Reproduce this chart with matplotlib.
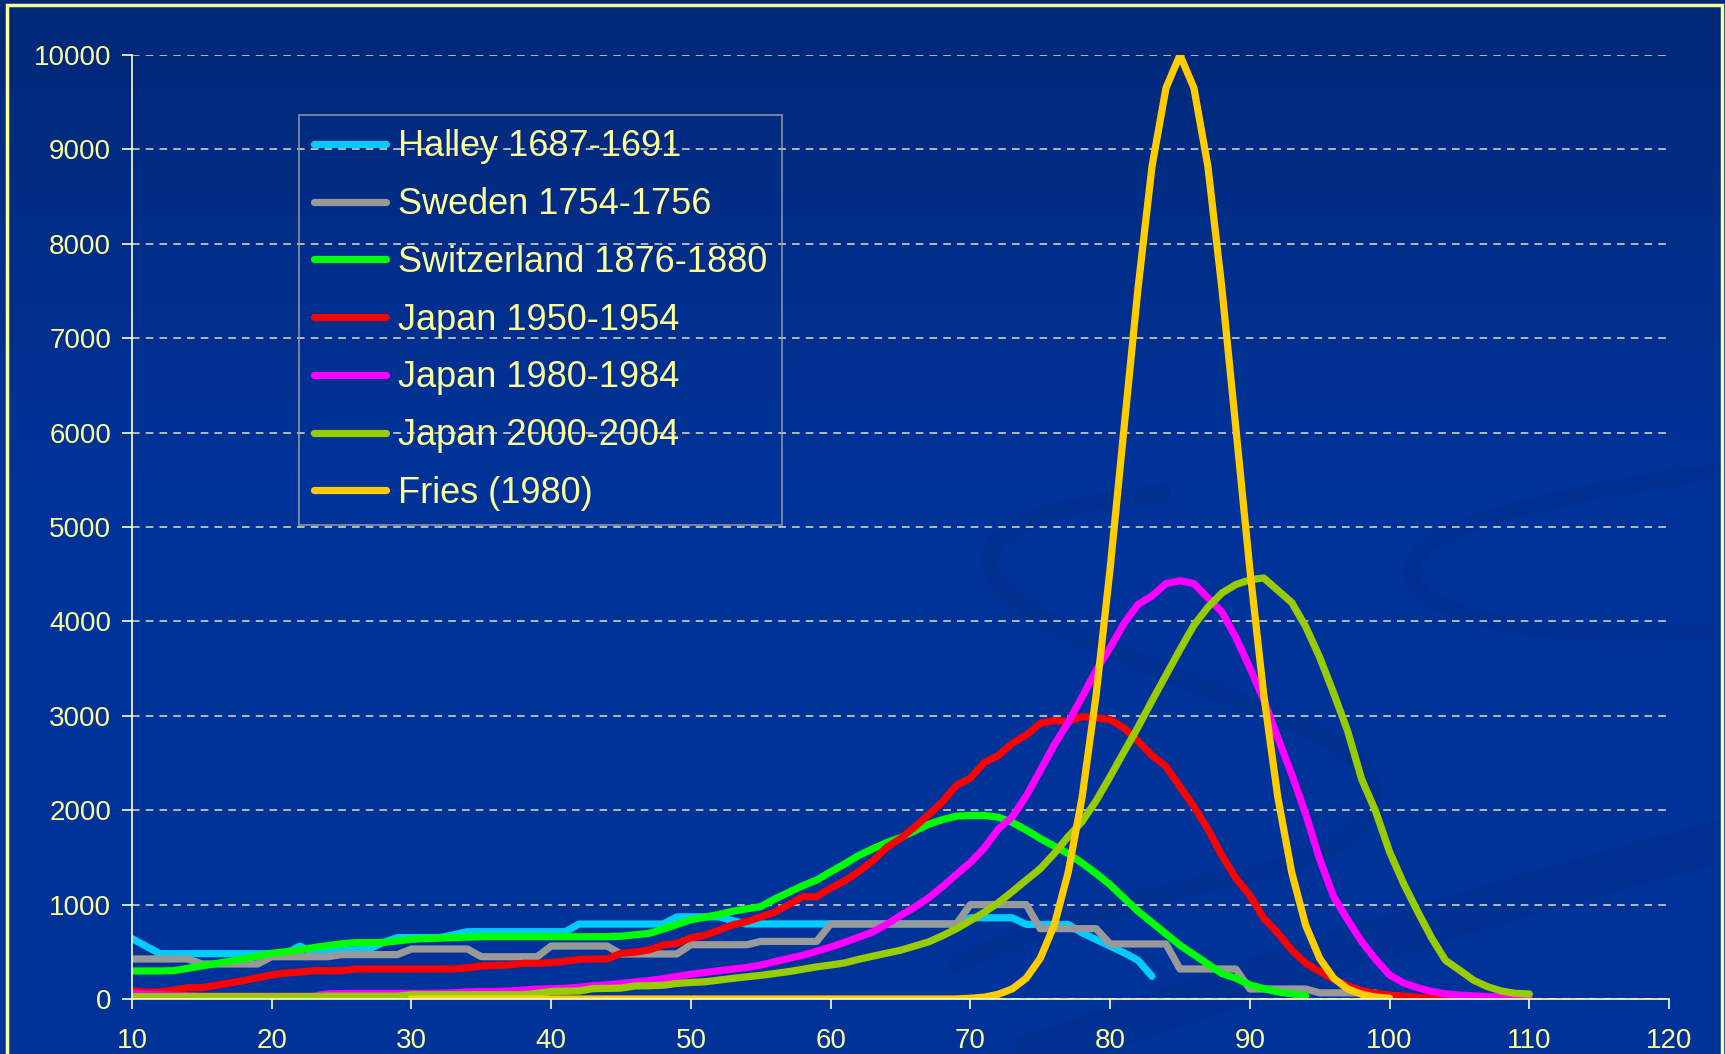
import matplotlib.pyplot as plt
import matplotlib.patches as mpatches
from matplotlib.path import Path
import numpy as np

plt.rcParams['font.family'] = ['Liberation Sans', 'DejaVu Sans']

# ---- data ----
halley_age = np.arange(10, 84)
halley = [640, 560, 480, 480, 480, 480, 480, 480, 480, 480,
          480, 480, 560, 490, 500, 510, 520, 530, 600, 650,
          650, 650, 650, 680, 713, 713, 713, 713, 713, 713,
          713, 713, 794, 794, 794, 794, 794, 794, 794, 870,
          870, 870, 870, 830, 795, 795, 795, 795, 795, 795,
          795, 795, 795, 795, 795, 795, 795, 795, 795, 795,
          860, 860, 860, 860, 790, 790, 790, 790, 700, 630,
          560, 490, 410, 240]

sweden_age = np.arange(10, 100)
sweden = [424, 424, 424, 424, 424, 371, 371, 371, 371, 371,
          448, 448, 448, 448, 448, 470, 470, 470, 470, 470,
          530, 530, 530, 530, 530, 448, 448, 448, 448, 448,
          561, 561, 561, 561, 561, 477, 477, 477, 477, 477,
          575, 575, 575, 575, 575, 610, 610, 610, 610, 610,
          795, 795, 795, 795, 795, 795, 795, 795, 795, 795,
          1000, 1000, 1000, 1000, 1000, 745, 745, 745, 745, 745,
          583, 583, 583, 583, 583, 318, 318, 318, 318, 318,
          106, 106, 106, 106, 106, 65, 65, 65, 65, 65]

swiss_age = np.arange(10, 95)
swiss = [297, 297, 297, 300, 325, 350, 375, 400, 425, 455,
         484, 500, 520, 545, 565, 585, 597, 597, 600, 615,
         632, 640, 645, 650, 655, 660, 660, 660, 660, 660,
         660, 660, 660, 660, 660, 665, 680, 695, 740, 790,
         839, 867, 895, 930, 955, 979, 1060, 1130, 1200, 1260,
         1347, 1430, 1520, 1590, 1656, 1710, 1780, 1850, 1900, 1937,
         1944, 1944, 1926, 1870, 1790, 1700, 1620, 1540, 1440, 1330,
         1210, 1070, 930, 810, 690, 570, 470, 370, 270, 220,
         150, 110, 75, 55, 35]

jp1950_age = np.arange(10, 106)
jp1950 = [88, 72, 75, 95, 120, 120, 145, 170, 195, 225,
          255, 275, 285, 300, 300, 300, 318, 318, 318, 318,
          318, 318, 318, 318, 330, 350, 355, 360, 378, 378,
          385, 400, 420, 424, 424, 484, 495, 520, 572, 590,
          649, 674, 730, 785, 820, 870, 920, 1000, 1084, 1084,
          1175, 1250, 1350, 1463, 1604, 1700, 1820, 1950, 2088, 2263,
          2340, 2505, 2579, 2709, 2796, 2919, 2950, 2940, 2990, 2980,
          2960, 2870, 2730, 2580, 2462, 2250, 2038, 1800, 1520, 1280,
          1100, 855, 700, 520, 380, 290, 210, 140, 90, 60,
          42, 30, 18, 10, 5, 0]

jp1980_age = np.arange(10, 111)
jp1980 = [60, 50, 45, 40, 35, 30, 30, 30, 30, 30,
          30, 30, 30, 30, 55, 58, 60, 60, 60, 60,
          60, 60, 62, 65, 75, 80, 80, 85, 95, 105,
          108, 113, 125, 140, 150, 165, 180, 195, 215, 240,
          262, 281, 300, 318, 333, 360, 395, 430, 463, 505,
          551, 600, 655, 709, 790, 884, 970, 1070, 1190, 1320,
          1446, 1600, 1800, 1930, 2150, 2420, 2690, 2930, 3200, 3480,
          3720, 3980, 4180, 4270, 4400, 4430, 4400, 4250, 4100, 3830,
          3510, 3170, 2770, 2380, 1960, 1480, 1084, 840, 610, 420,
          255, 170, 120, 80, 55, 42, 33, 25, 20, 14,
          10]

jp2000_age = np.arange(10, 111)
jp2000 = [25, 25, 25, 25, 25, 25, 25, 25, 25, 25,
          25, 25, 25, 25, 30, 30, 30, 30, 30, 30,
          45, 45, 45, 45, 45, 45, 45, 45, 45, 60,
          80, 82, 85, 110, 112, 115, 138, 140, 145, 165,
          175, 182, 200, 218, 235, 250, 270, 290, 315, 340,
          360, 382, 420, 453, 485, 516, 560, 604, 670, 744,
          830, 919, 1020, 1137, 1260, 1380, 1540, 1720, 1880, 2100,
          2355, 2620, 2880, 3160, 3430, 3700, 3960, 4150, 4300, 4390,
          4440, 4460, 4330, 4200, 3945, 3620, 3240, 2840, 2330, 1990,
          1560, 1225, 930, 650, 410, 307, 200, 131, 85, 60,
          53]

fries_age = np.arange(30, 101)
fries = [0, 0, 0, 0, 0, 0, 0, 0, 0, 0,
         0, 0, 0, 0, 0, 0, 0, 0, 0, 0,
         0, 0, 0, 0, 0, 0, 0, 0, 0, 0,
         0, 0, 0, 0, 0, 0, 0, 0, 0, 0,
         8, 20, 50, 107, 220, 430, 780, 1340, 2140, 3220,
         4555, 6050, 7530, 8820, 9650, 10000, 9650, 8820, 7530, 6050,
         4555, 3220, 2140, 1340, 780, 430, 220, 107, 50, 20,
         8]

series = [
    (halley_age, halley, 'Halley 1687-1691', '#00ccff'),
    (sweden_age, sweden, 'Sweden 1754-1756', '#999999'),
    (swiss_age, swiss, 'Switzerland 1876-1880', '#00ff00'),
    (jp1950_age, jp1950, 'Japan 1950-1954', '#ff0000'),
    (jp1980_age, jp1980, 'Japan 1980-1984', '#ff00ff'),
    (jp2000_age, jp2000, 'Japan 2000-2004', '#99cc00'),
    (fries_age, fries, 'Fries (1980)', '#ffcc00'),
]

txt = '#ffff99'
W, H = 1725, 1054

fig = plt.figure(figsize=(17.25, 10.54), dpi=100)

# background gradient, darker at the top
bg = fig.add_axes([0, 0, 1, 1], zorder=-10)
grad = np.linspace(0, 1, 256)
top = np.array([0x00, 0x28, 0x78]) / 255
low = np.array([0x00, 0x33, 0x99]) / 255
mix = np.clip(grad / 0.45, 0, 1)[:, None]
img = top + (low - top) * mix
bg.imshow(img[:, None, :], aspect='auto', extent=[0, 1, 0, 1], origin='upper')
bg.set_xlim(0, 1)
bg.set_ylim(0, 1)
bg.axis('off')


def fp(x, y):
    return (x / W, 1 - y / H)


# faint decorative swirls of the slide template
swc = '#002c84'
swirl = Path([fp(1170, 492), fp(1040, 505), fp(960, 535), fp(1000, 585),
              fp(1040, 635), fp(1200, 680), fp(1320, 735),
              fp(1410, 780), fp(1380, 845), fp(1260, 872),
              fp(1150, 895), fp(1050, 925), fp(950, 965)],
             [Path.MOVETO] + [Path.CURVE4] * 12)
bg.add_patch(mpatches.PathPatch(swirl, transform=fig.transFigure, fill=False,
                                edgecolor=swc, lw=12, alpha=0.4))
arc = Path([fp(1725, 470), fp(1480, 505), fp(1380, 545), fp(1420, 590),
            fp(1460, 630), fp(1600, 640), fp(1725, 630)],
           [Path.MOVETO] + [Path.CURVE4] * 6)
bg.add_patch(mpatches.PathPatch(arc, transform=fig.transFigure, fill=False,
                                edgecolor=swc, lw=11, alpha=0.35))
band = Path([fp(1020, 1060), fp(1300, 960), fp(1500, 900), fp(1725, 840)],
            [Path.MOVETO] + [Path.CURVE4] * 3)
bg.add_patch(mpatches.PathPatch(band, transform=fig.transFigure, fill=False,
                                edgecolor=swc, lw=30, alpha=0.35))

fig.patches.append(mpatches.Rectangle((7 / W, -0.02), 1715 / W, 1 - 5 / H + 0.02,
                                      transform=fig.transFigure, fill=False,
                                      edgecolor=txt, linewidth=2.5))

ax = fig.add_axes([132 / W, 1 - 999 / H, 1537 / W, 944 / H])
ax.set_facecolor('none')

for x, y, lab, col in series:
    ax.plot(x, y, color=col, lw=5.2, label=lab,
            solid_capstyle='round', solid_joinstyle='round')

ax.set_xlim(10, 120)
ax.set_ylim(0, 10000)
ax.set_xticks(np.arange(10, 121, 10))
ax.set_yticks(np.arange(0, 10001, 1000))
ax.yaxis.grid(True, color='#e0e0b8', linestyle=(0, (5, 4)), linewidth=1.1)
ax.set_axisbelow(True)
for s in ['top', 'right']:
    ax.spines[s].set_visible(False)
for s in ['left', 'bottom']:
    ax.spines[s].set_color('#ffffcc')
    ax.spines[s].set_linewidth(1.2)
ax.tick_params(axis='both', colors='#ffffcc', labelcolor=txt, labelsize=20,
               direction='out', length=7, width=1.2)
ax.tick_params(axis='x', pad=14)
ax.tick_params(axis='y', pad=8)

leg = ax.legend(loc='upper left', bbox_to_anchor=(0.1087, 0.9364), borderaxespad=0,
                fontsize=26, frameon=True, fancybox=False, handlelength=2.0,
                handletextpad=0.35, labelspacing=0.63, borderpad=0.4)
leg.get_frame().set_facecolor('none')
leg.get_frame().set_edgecolor('#a0a0a0')
leg.get_frame().set_linewidth(1.3)
for t in leg.get_texts():
    t.set_color(txt)
for h in leg.get_lines():
    h.set_linewidth(5.2)

fig.savefig('out.png', dpi=100)
